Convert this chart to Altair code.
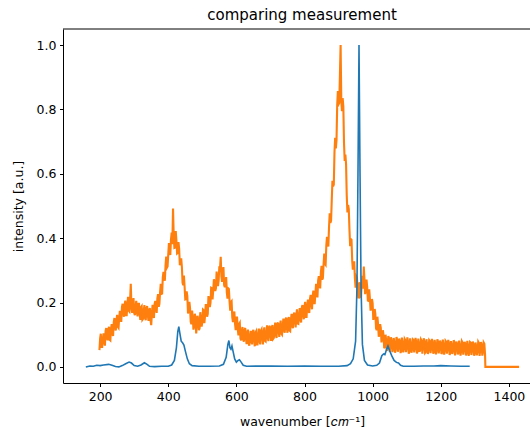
import altair as alt
import pandas as pd

# reference spectrum (blue)
blue_x = [158, 170, 180, 190, 200, 210, 225, 235, 245, 255, 265, 275, 285, 292, 300,
          310, 320, 330, 338, 345, 360, 380, 400, 410, 418, 424, 428, 431, 434, 438,
          442, 446, 450, 456, 462, 470, 490, 520, 550, 562, 570, 575, 578, 581, 584,
          587, 590, 595, 600, 605, 609, 614, 620, 630, 700, 750, 800, 850, 900, 925,
          935, 943, 950, 954, 957, 960, 963, 966, 970, 976, 985, 1000, 1012, 1020, 1027,
          1032, 1036, 1041, 1045, 1050, 1056, 1063, 1070, 1076, 1082, 1090, 1120, 1150,
          1180, 1200, 1230, 1260, 1285]
blue_y = [0.000, 0.003, 0.002, 0.005, 0.004, 0.006, 0.008, 0.005, 0.001, 0.000, 0.004,
          0.010, 0.015, 0.012, 0.004, 0.002, 0.006, 0.013, 0.008, 0.002, 0.001, 0.002,
          0.002, 0.006, 0.020, 0.060, 0.110, 0.125, 0.105, 0.080, 0.075, 0.068, 0.050,
          0.025, 0.010, 0.004, 0.002, 0.002, 0.003, 0.008, 0.030, 0.070, 0.082, 0.060,
          0.055, 0.065, 0.050, 0.025, 0.015, 0.020, 0.022, 0.015, 0.005, 0.002, 0.003,
          0.002, 0.003, 0.002, 0.002, 0.004, 0.010, 0.025, 0.080, 0.250, 0.600, 1.000,
          0.600, 0.250, 0.070, 0.020, 0.006, 0.003, 0.005, 0.012, 0.035, 0.040, 0.038,
          0.055, 0.065, 0.050, 0.035, 0.020, 0.014, 0.012, 0.005, 0.002, 0.002, 0.003,
          0.003, 0.004, 0.003, 0.002, 0.002]

# measured spectrum (orange): readings at 198, 202, 206, ... cm^-1
orange_y_a = [
    0.052, 0.103, 0.062, 0.104, 0.066, 0.121, 0.083, 0.125, 0.082, 0.133,
    0.096, 0.152, 0.113, 0.162, 0.121, 0.174, 0.140, 0.196, 0.156, 0.206,
    0.161, 0.218, 0.172, 0.258, 0.168, 0.214, 0.161, 0.205, 0.157, 0.196,
    0.146, 0.189, 0.149, 0.192, 0.145, 0.189, 0.143, 0.183, 0.130, 0.193,
    0.152, 0.205, 0.168, 0.226, 0.196, 0.258, 0.228, 0.295, 0.268, 0.343,
    0.312, 0.385, 0.348, 0.417, 0.492, 0.370, 0.422, 0.353, 0.388, 0.316,
    0.337, 0.261, 0.284, 0.210, 0.235, 0.166, 0.202, 0.140, 0.175, 0.116,
    0.165, 0.104, 0.159, 0.114, 0.170, 0.125, 0.178, 0.136, 0.192, 0.156,
    0.220, 0.186, 0.246, 0.210, 0.272, 0.236, 0.296, 0.251, 0.313, 0.342,
    0.264, 0.310, 0.248, 0.279, 0.212, 0.242, 0.175, 0.204, 0.139, 0.172,
    0.114, 0.153, 0.098, 0.137, 0.082, 0.124, 0.078, 0.121, 0.071, 0.116,
    0.066, 0.112, 0.070, 0.115, 0.064, 0.111, 0.070, 0.119, 0.070, 0.117,
    0.070, 0.123, 0.079, 0.129, 0.080, 0.128, 0.081, 0.130, 0.090, 0.138,
    0.090, 0.138, 0.093, 0.144, 0.100, 0.150, 0.106, 0.153, 0.106, 0.155,
    0.111, 0.165, 0.120, 0.169, 0.123, 0.179, 0.134, 0.183, 0.138, 0.192,
    0.148, 0.202, 0.155, 0.209, 0.168, 0.224, 0.179, 0.237, 0.198, 0.258,
    0.216, 0.282, 0.244, 0.314, 0.276, 0.352, 0.317, 0.404, 0.374, 0.477,
    0.455, 0.578, 0.567, 0.712, 0.705, 0.857, 0.820, 1.000, 0.795, 0.810,
    0.640, 0.630, 0.480, 0.490, 0.375, 0.395, 0.302, 0.328, 0.246, 0.278,
    0.213, 0.263, 0.220, 0.283, 0.312, 0.226, 0.271, 0.206, 0.241, 0.175,
    0.211, 0.146, 0.180, 0.120, 0.156, 0.094, 0.133, 0.076, 0.114, 0.058,
    0.100, 0.050, 0.096, 0.047,
    0.092, 0.046, 0.090, 0.044, 0.093, 0.047, 0.088, 0.043, 0.091, 0.045, 0.087, 0.046,
    0.092, 0.041, 0.089, 0.044, 0.086, 0.045, 0.090, 0.042, 0.088, 0.047, 0.085, 0.041,
    0.089, 0.044, 0.086, 0.040, 0.083, 0.043, 0.087, 0.041, 0.084, 0.039, 0.086, 0.042,
    0.082, 0.040, 0.085, 0.038, 0.081, 0.041, 0.084, 0.037, 0.080, 0.040, 0.083, 0.036,
    0.079, 0.039, 0.082, 0.035, 0.080, 0.038, 0.078, 0.036, 0.081, 0.034, 0.077, 0.037,
    0.079, 0.035, 0.076, 0.036, 0.078, 0.034, 0.077, 0.035, 0.076, 0.040,
]
# measured spectrum (orange): readings at 200, 204, 208, ... cm^-1
orange_y_b = [
    0.089, 0.062, 0.088, 0.078, 0.112, 0.090, 0.117, 0.084, 0.119, 0.102,
    0.139, 0.124, 0.147, 0.124, 0.154, 0.148, 0.186, 0.167, 0.195, 0.161,
    0.195, 0.175, 0.208, 0.185, 0.199, 0.167, 0.186, 0.169, 0.196, 0.167,
    0.186, 0.146, 0.175, 0.152, 0.183, 0.161, 0.176, 0.144, 0.167, 0.159,
    0.196, 0.179, 0.212, 0.187, 0.232, 0.227, 0.278, 0.277, 0.316, 0.308,
    0.350, 0.353, 0.396, 0.381, 0.410, 0.371, 0.392, 0.355, 0.367, 0.321,
    0.311, 0.254, 0.249, 0.211, 0.220, 0.176, 0.183, 0.133, 0.154, 0.126,
    0.154, 0.130, 0.147, 0.120, 0.147, 0.139, 0.176, 0.159, 0.192, 0.165,
    0.208, 0.199, 0.245, 0.237, 0.265, 0.245, 0.276, 0.270, 0.306, 0.282,
    0.301, 0.254, 0.270, 0.231, 0.244, 0.203, 0.201, 0.154, 0.161, 0.134,
    0.153, 0.118, 0.133, 0.088, 0.113, 0.086, 0.115, 0.090, 0.105, 0.074,
    0.095, 0.080, 0.110, 0.084, 0.107, 0.070, 0.101, 0.080, 0.113, 0.092,
    0.109, 0.081, 0.104, 0.092, 0.123, 0.099, 0.123, 0.087, 0.119, 0.099,
    0.133, 0.113, 0.131, 0.103, 0.127, 0.115, 0.147, 0.123, 0.148, 0.113,
    0.146, 0.127, 0.162, 0.143, 0.162, 0.135, 0.160, 0.150, 0.184, 0.162,
    0.188, 0.155, 0.190, 0.173, 0.211, 0.196, 0.219, 0.198, 0.229, 0.226,
    0.268, 0.255, 0.292, 0.271, 0.320, 0.320, 0.377, 0.384, 0.435, 0.447,
    0.518, 0.561, 0.667, 0.679, 0.814, 0.816, 0.908, 0.828, 0.835, 0.695,
    0.660, 0.533, 0.503, 0.426, 0.397, 0.330, 0.319, 0.276, 0.282, 0.239,
    0.253, 0.218, 0.258, 0.243, 0.273, 0.244, 0.249, 0.205, 0.212, 0.183,
    0.198, 0.157, 0.165, 0.114, 0.132, 0.099, 0.121, 0.090, 0.099, 0.063,
    0.080, 0.063, 0.090, 0.063,
    0.080, 0.055, 0.071, 0.060, 0.085, 0.062, 0.079, 0.050, 0.074, 0.058, 0.083, 0.063,
    0.077, 0.049, 0.070, 0.056, 0.084, 0.061, 0.078, 0.048, 0.072, 0.055, 0.081, 0.060,
    0.076, 0.047, 0.069, 0.054, 0.080, 0.059, 0.075, 0.046, 0.070, 0.053, 0.079, 0.058,
    0.074, 0.045, 0.068, 0.052, 0.078, 0.057, 0.073, 0.044, 0.067, 0.051, 0.077, 0.056,
    0.072, 0.044, 0.066, 0.050, 0.076, 0.055, 0.071, 0.043, 0.065, 0.050, 0.075, 0.054,
    0.070, 0.043, 0.064, 0.049, 0.074, 0.053, 0.069, 0.045, 0.072,
]
orange_tail_x = [1331, 1430]
orange_tail_y = [0.0, 0.0]

x_ticks = [200, 400, 600, 800, 1000, 1200, 1400]
y_ticks = [0.0, 0.2, 0.4, 0.6, 0.8, 1.0]

pts = [(198 + 4 * i, v) for i, v in enumerate(orange_y_a)]
pts += [(200 + 4 * i, v) for i, v in enumerate(orange_y_b)]
pts.sort()
pts += list(zip(orange_tail_x, orange_tail_y))
df_orange = pd.DataFrame({"x": [p[0] for p in pts], "y": [p[1] for p in pts],
                          "o": range(len(pts))})
df_blue = pd.DataFrame({"x": blue_x, "y": blue_y, "o": range(len(blue_x))})

W, H = 467, 354
FONT = "DejaVu Sans"

xscale = alt.Scale(domain=[91, 1462], nice=False, zero=False)
yscale = alt.Scale(domain=[-0.05, 1.05], nice=False, zero=False)

xaxis = alt.Axis(values=x_ticks, format="d", title="wavenumber [𝑐𝑚⁻¹]", grid=False,
                 titleX=239, titleY=42, titleBaseline="alphabetic", titleAnchor="start",
                 titleAlign="center")
yaxis = alt.Axis(values=y_ticks, format=".1f", title="intensity [a.u.]", grid=False,
                 titleX=-45, titleY=H / 2, titleBaseline="middle", titleAlign="center",
                 titleAngle=-90)

orange = alt.Chart(df_orange).mark_line(color="#ff7f0e", strokeWidth=2.1, clip=True).encode(
    x=alt.X("x:Q", scale=xscale, axis=xaxis),
    y=alt.Y("y:Q", scale=yscale, axis=yaxis),
    order="o:Q",
)
blue = alt.Chart(df_blue).mark_line(color="#1f77b4", strokeWidth=1.6, clip=True).encode(
    x=alt.X("x:Q", scale=xscale),
    y=alt.Y("y:Q", scale=yscale),
    order="o:Q",
)
topline = alt.Chart(pd.DataFrame({"a": [0]})).mark_rule(color="black", strokeWidth=1).encode(
    x=alt.value(0), x2=alt.value(W), y=alt.value(0)
)

chart = alt.layer(orange, blue, topline).properties(
    width=W, height=H,
    title=alt.TitleParams("comparing measurement", fontSize=15, font=FONT, fontWeight="normal",
                          color="black", anchor="middle", dx=5.5, dy=16, offset=9.5,
                          baseline="alphabetic"),
    autosize=alt.AutoSizeParams(type="none"),
    padding={"left": 63, "top": 29, "right": 0, "bottom": 47},
).configure_view(stroke=None).configure_axis(
    labelFont=FONT, titleFont=FONT, labelFontSize=12.5, titleFontSize=12.5,
    labelColor="black", titleColor="black", titleFontWeight="normal",
    domainColor="black", domainWidth=1, tickColor="black", tickSize=3.5, tickWidth=1,
    labelPadding=3.5,
)

chart.save("out.html", embed_options={"renderer": "svg", "actions": False})
